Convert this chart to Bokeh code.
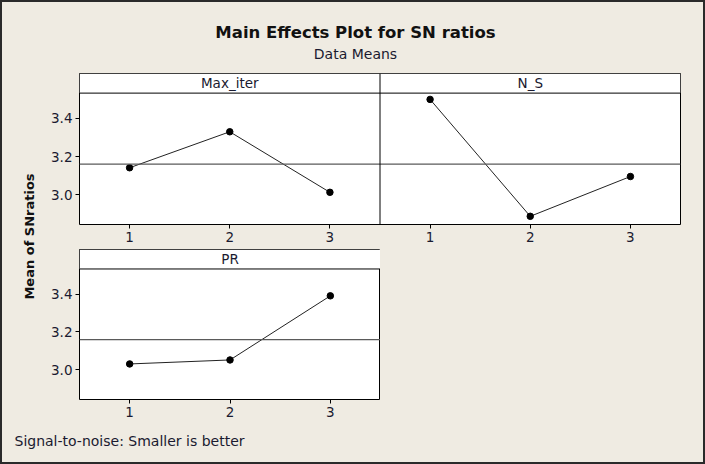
import numpy as np
from bokeh.plotting import figure
from bokeh.layouts import column, row
from bokeh.models import (Range1d, FixedTicker, Span, BoxAnnotation, Label,
                          NumeralTickFormatter)
from bokeh.embed import file_html
from bokeh.resources import INLINE

# ---------------- data ----------------
title_text = "Main Effects Plot for SN ratios"
subtitle_text = "Data Means"
y_label_text = "Mean of SNratios"
footer_text = "Signal-to-noise: Smaller is better"
levels = [1, 2, 3]
factor_names = ["Max_iter", "N_S", "PR"]
max_iter = [3.141, 3.330, 3.012]
n_s = [3.500, 2.886, 3.095]
pr = [3.031, 3.052, 3.391]
y_ticks = [3.0, 3.2, 3.4]

grand_mean = float(np.mean(max_iter + n_s + pr))

# ---------------- style ----------------
BG = "#EFEBE2"
FONT = "DejaVu Sans"
TXT = "#1a1a30"
Y_LO, STRIP_BOTTOM, Y_HI = 2.843, 3.533, 3.636
TICK_FS = "13.5px"
STRIP_FS = "13.5px"


def blank(width, height):
    f = figure(width=width, height=height, x_range=Range1d(0, width),
               y_range=Range1d(0, height), output_backend="svg",
               toolbar_location=None, min_border=0,
               x_axis_location=None, y_axis_location=None)
    f.background_fill_color = BG
    f.border_fill_color = BG
    f.outline_line_color = None
    f.grid.visible = False
    return f


def style_axes(p):
    p.background_fill_color = "white"
    p.border_fill_color = BG
    p.outline_line_color = "black"
    p.outline_line_width = 1
    p.grid.visible = False
    for ax in p.axis:
        ax.axis_line_color = None
        ax.major_tick_line_color = "black"
        ax.major_tick_in = 0
        ax.major_tick_out = 4
        ax.minor_tick_line_color = None
        ax.major_label_text_font = FONT
        ax.major_label_text_font_size = TICK_FS
        ax.major_label_text_color = TXT
        ax.major_label_standoff = 3
    p.yaxis.ticker = FixedTicker(ticks=y_ticks)
    p.yaxis.formatter = NumeralTickFormatter(format="0.0")


def add_panel(p, name, vals, offset):
    xs = [lv + offset for lv in levels]
    p.add_layout(Label(x=float(np.mean(xs)), y=(STRIP_BOTTOM + Y_HI) / 2, text=name,
                       text_align="center", text_baseline="middle",
                       text_font=FONT, text_font_size=STRIP_FS, text_color=TXT))
    p.line(xs, vals, line_color="#222222", line_width=1)
    p.scatter(xs, vals, size=6.5, fill_color="black", line_color="black")
    return xs


def add_strip_and_mean(p):
    p.add_layout(BoxAnnotation(bottom=STRIP_BOTTOM, fill_color="white", fill_alpha=1.0,
                               line_color=None))
    p.add_layout(Span(location=STRIP_BOTTOM, dimension="width",
                      line_color="black", line_width=1))
    p.add_layout(Span(location=grand_mean, dimension="width",
                      line_color="#5a5a5a", line_width=1.3))


# ---------------- header ----------------
header = blank(701, 63)
header.add_layout(Label(x=353, y=33, text=title_text, text_align="center",
                        text_baseline="middle", text_font=FONT, text_font_size="16.5px",
                        text_font_style="bold", text_color="#111111"))
header.add_layout(Label(x=353, y=12, text=subtitle_text, text_align="center",
                        text_baseline="middle", text_font=FONT, text_font_size="14px",
                        text_color=TXT))

# ---------------- y label ----------------
ylab = blank(38, 356)
ylab.add_layout(Label(x=27, y=185, text=y_label_text, angle=np.pi / 2,
                      text_align="center", text_baseline="middle", text_font=FONT,
                      text_font_size="13px", text_font_style="bold", text_color="#111111"))

# ---------------- top row: Max_iter | N_S ----------------
n_lv = len(levels)
top = figure(width=663, height=181,
             x_range=Range1d(0.5, 0.5 + 2 * n_lv), y_range=Range1d(Y_LO, Y_HI),
             output_backend="svg", toolbar_location=None,
             min_border_left=39, min_border_right=23, min_border_top=8, min_border_bottom=22)
style_axes(top)
add_strip_and_mean(top)
xs1 = add_panel(top, factor_names[0], max_iter, 0)
xs2 = add_panel(top, factor_names[1], n_s, n_lv)
top.xaxis.ticker = FixedTicker(ticks=xs1 + xs2)
top.xaxis.major_label_overrides = {x: str(lv) for x, lv in zip(xs1 + xs2, levels + levels)}
top.add_layout(Span(location=0.5 + n_lv, dimension="height",
                    line_color="black", line_width=1))

# ---------------- bottom row: PR ----------------
bot = figure(width=340, height=175,
             x_range=Range1d(0.5, 0.5 + n_lv), y_range=Range1d(Y_LO, Y_HI),
             output_backend="svg", toolbar_location=None,
             min_border_left=39, min_border_right=0, min_border_top=3, min_border_bottom=22)
style_axes(bot)
add_strip_and_mean(bot)
xs3 = add_panel(bot, factor_names[2], pr, 0)
bot.xaxis.ticker = FixedTicker(ticks=xs3)
bot_pad = blank(323, 175)

# ---------------- footer ----------------
foot = blank(701, 41)
foot.add_layout(Label(x=12, y=22, text=footer_text, text_align="left",
                      text_baseline="middle", text_font=FONT, text_font_size="14px",
                      text_color=TXT))

root = column(header,
              row(ylab, column(top, row(bot, bot_pad, spacing=0), spacing=0), spacing=0),
              foot, spacing=0,
              styles={"border": "2px solid #2a2a2a", "background-color": BG})

open("out.html", "w").write(file_html(root, INLINE))
